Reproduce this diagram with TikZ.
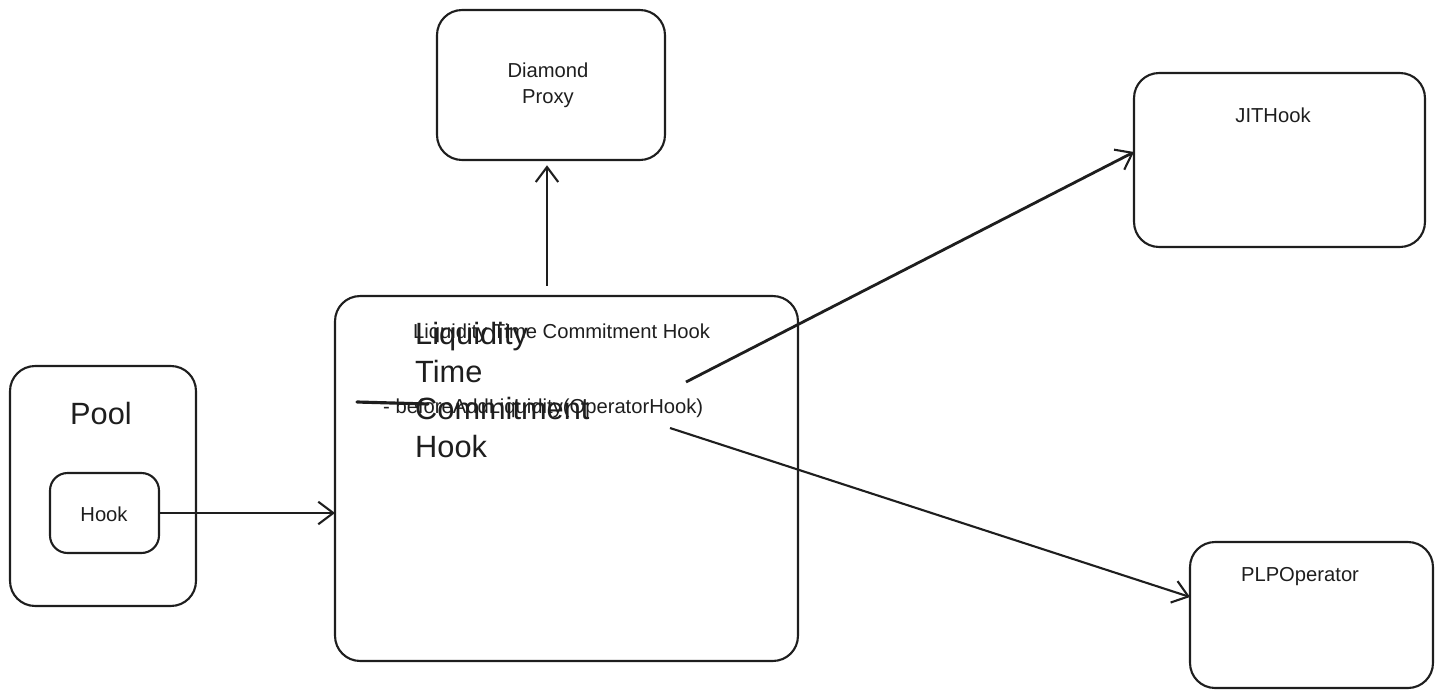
\documentclass[tikz,border=0pt]{standalone}
\usepackage{fontspec}
\setmainfont{Liberation Sans}
\usetikzlibrary{arrows.meta}

\definecolor{ink}{HTML}{1E1E1E}
\tikzset{
  box/.style={draw=ink, line width=1.2pt, rounded corners=0.5cm,
    inner sep=0pt, outer sep=0pt},
  smalltxt/.style={text=ink, font=\fontsize{11.5}{14.7}\selectfont},
  bigtxt/.style={text=ink, font=\fontsize{17.5}{21.5}\selectfont},
  link/.style={draw=ink, line width=1.2pt,
    -{Straight Barb[length=0.3cm, width=0.45cm, line width=1.2pt]}},
}

\begin{document}
\begin{tikzpicture}[x=0.02cm, y=-0.02cm]
  \useasboundingbox (0,0) rectangle (1441,697);

  % boxes
  \node[box, minimum width=4.56cm, minimum height=3cm]    (proxy) at (551,85)     {};
  \node[box, minimum width=5.82cm, minimum height=3.48cm] (jit)   at (1279.5,160) {};
  \node[box, minimum width=4.86cm, minimum height=2.92cm] (plp)   at (1311.5,615) {};
  \node[box, minimum width=3.72cm, minimum height=4.8cm]  (pool)  at (103,486)    {};
  \node[box, minimum width=2.18cm, minimum height=1.6cm, rounded corners=0.35cm]
    (hook) at (104.5,513) {};
  \node[box, minimum width=9.26cm, minimum height=7.3cm]  (hub)   at (566.5,478.5) {};

  % labels
  \node[smalltxt, align=center] (proxytxt) at (548,85)  {Diamond\\Proxy};
  \node[smalltxt]               (jittxt)   at (1273,115) {JITHook};
  \node[smalltxt]               (plptxt)   at (1300,577) {PLPOperator};
  \node[bigtxt]                 (pooltxt)  at (101,414)  {Pool};
  \node[smalltxt]               (hooktxt)  at (104,514)  {Hook};

  % overlapping texts in the hook box
  \node[smalltxt, anchor=west] (hubline) at (407,333) {Liquidity Time Commitment Hook};
  \node[bigtxt, anchor=west, align=left] (hubtitle) at (409,390)
    {Liquidity\\Time\\Commitment\\Hook};
  \node[smalltxt, anchor=west] (hubfunc) at (377,408) {- beforeAddLiquidity(OperatorHook)};
  \draw[ink, line width=1.8pt, line cap=round] (357,402) -- (428,404);

  % connectors
  \coordinate (hubjit) at (686,382);
  \coordinate (hubplp) at (670,428);
  \draw[link] (hook.east) -- (hook.east -| hub.west);
  \draw[link, shorten <=6pt, shorten >=3pt] ([xshift=-0.08cm]hub.north -| proxy.south)
    -- ([xshift=-0.08cm]proxy.south);
  \draw[link, line width=1.6pt] (hubjit) -- ([yshift=0.16cm]jit.west);
  \draw[link] (hubplp) -- ([yshift=0.36cm]plp.west);
\end{tikzpicture}
\end{document}
